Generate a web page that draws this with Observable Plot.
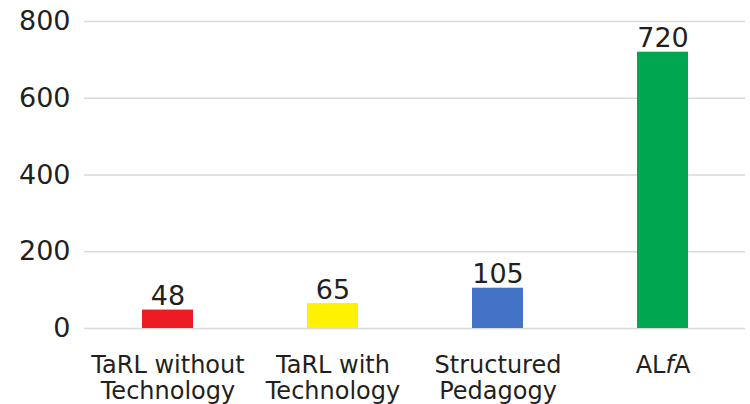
<!DOCTYPE html>
<html><head><meta charset="utf-8">
<script src="https://cdn.jsdelivr.net/npm/d3@7"></script>
<script src="https://cdn.jsdelivr.net/npm/@observablehq/plot@0.6"></script>
<style>
html,body{margin:0;padding:0;background:#fff;}
</style></head>
<body><div id="chart"></div>
<script>
const categories = ["TaRL without\nTechnology", "TaRL with\nTechnology", "Structured\nPedagogy", "ALfA"];
const values = [48, 65, 105, 720];
const colors = ["#ED1C24", "#FFF200", "#4472C4", "#00A650"];
const yTicks = [0, 200, 400, 600, 800];

const data = categories.map((c, i) => ({cat: c, value: values[i], color: colors[i]}));

const chart = Plot.plot({
  width: 750,
  height: 404,
  marginTop: 21,
  marginBottom: 76,
  marginLeft: 84,
  marginRight: 5,
  style: {fontFamily: "'DejaVu Sans', sans-serif", color: "#231f20", background: "#fff"},
  x: {domain: categories, padding: 0, axis: null},
  y: {domain: [0, 800], ticks: yTicks, axis: null},
  marks: [
    Plot.gridY(yTicks, {stroke: "#d9d9d9", strokeOpacity: 1, strokeWidth: 1.5}),
    Plot.axisY(yTicks, {tickSize: 0, tickPadding: 14, fontSize: 27, label: null, fill: "#231f20", anchor: "left"}),
    Plot.barY(data, {x: "cat", y: "value", fill: "color", insetLeft: 57, insetRight: 57}),
    Plot.text(data, {x: "cat", y: "value", text: d => String(d.value), dy: -5, lineAnchor: "bottom", fontSize: 27, fill: "#231f20"}),
    Plot.text(data, {x: "cat", text: "cat", frameAnchor: "bottom", lineAnchor: "top", dy: 27, fontSize: 24, lineHeight: 1.05, fill: "#231f20", className: "xlab"})
  ]
});
// italic "f" in ALfA
chart.querySelectorAll("text").forEach(t => {
  if (t.textContent === "ALfA" && t.childNodes.length === 1) {
    const s = t.textContent;
    t.textContent = "";
    const ns = "http://www.w3.org/2000/svg";
    ["AL", "f", "A"].forEach(part => {
      const ts = document.createElementNS(ns, "tspan");
      ts.textContent = part;
      if (part === "f") ts.setAttribute("font-style", "italic");
      t.appendChild(ts);
    });
  }
});
document.getElementById("chart").appendChild(chart);
</script>
</body></html>
